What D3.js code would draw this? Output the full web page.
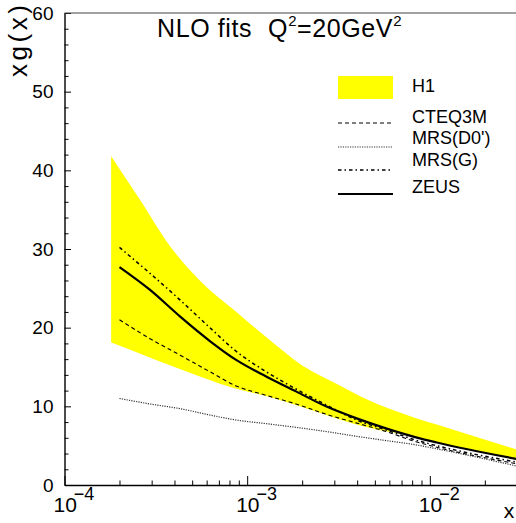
<!DOCTYPE html>
<html>
<head>
<meta charset="utf-8">
<script src="https://cdn.jsdelivr.net/npm/d3@7"></script>
<style>
  body { margin: 0; background: #fff; }
  svg { display: block; font-family: "Liberation Sans", Arial, Helvetica, sans-serif; }
</style>
</head>
<body>
<div id="chart"></div>
<script>
// donnees
const bandX   = [1.8e-4, 2.6e-4, 3.8e-4, 5.5e-4, 8.5e-4, 1.27e-3, 2e-3, 3.06e-3, 4.6e-3, 8.4e-3, 1.09e-2, 3e-2];
const h1High  = [41.8, 36.2, 30.3, 26.0, 22.2, 18.8, 15.2, 12.9, 10.8, 8.5, 7.7, 4.5];
const h1Low   = [18.1, 16.7, 15.2, 13.8, 12.3, 11.3, 9.9, 8.5, 7.3, 6.1, 5.4, 3.2];

const curveX  = [2e-4, 2.94e-4, 4.3e-4, 6.25e-4, 8.7e-4, 1.27e-3, 1.85e-3, 2.7e-3, 3.94e-3, 5.75e-3, 8.4e-3, 1.09e-2, 3e-2];
const cteq3m  = [21.0, 18.6, 16.5, 14.4, 12.6, 11.4, 10.3, 9.0, 7.9, 6.8, 5.5, 4.8, 2.7];
const mrsD0   = [11.0, 10.3, 9.7, 8.9, 8.26, 7.8, 7.33, 6.8, 6.2, 5.65, 5.1, 4.6, 2.4];
const mrsG    = [30.2, 26.9, 23.5, 20.0, 17.0, 14.4, 12.2, 10.2, 8.3, 7.0, 5.7, 5.0, 2.9];
const zeus    = [27.7, 24.8, 21.4, 18.3, 15.9, 13.8, 11.9, 10.0, 8.5, 7.2, 6.06, 5.4, 3.3];

const xMajor  = [1e-4, 1e-3, 1e-2];
const xExpo   = ["\u22124", "\u22123", "\u22122"];
const yMajor  = [0, 10, 20, 30, 40, 50, 60];

const seriesNames = ["CTEQ3M", "MRS(D0')", "MRS(G)", "ZEUS"];

// dimensions
const W = 516, H = 523;
const m = {left: 64.5, right: 517, top: 13, bottom: 485};

const svg = d3.select("#chart").append("svg")
    .attr("width", W).attr("height", H);

const x = d3.scaleLog().domain([1e-4, 3e-2]).range([m.left, m.right]);
const y = d3.scaleLinear().domain([0, 60]).range([m.bottom, m.top]);

svg.append("clipPath").attr("id", "clip")
  .append("rect").attr("x", m.left).attr("y", m.top)
  .attr("width", m.right - m.left).attr("height", m.bottom - m.top);

const plot = svg.append("g").attr("clip-path", "url(#clip)");

// bande H1
const band = bandX.map((v, i) => ({x: v, lo: h1Low[i], hi: h1High[i]}));
plot.append("path")
    .datum(band)
    .attr("fill", "#ffff00")
    .attr("stroke", "none")
    .attr("d", d3.area()
        .curve(d3.curveMonotoneX)
        .x(d => x(d.x))
        .y0(d => y(d.lo))
        .y1(d => y(d.hi)));

// courbes
const styles = [
  {vals: cteq3m, dash: "4,3", w: 1.1, color: "#000"},
  {vals: mrsD0,  dash: "1.2,1.2", w: 1.2, color: "#333"},
  {vals: mrsG,   dash: "3.5,3,1.5,3", w: 1.5, color: "#000"},
  {vals: zeus,   dash: null, w: 2.2, color: "#000"}
];

const line = d3.line()
    .curve(d3.curveMonotoneX)
    .x(d => x(d.x))
    .y(d => y(d.v));

styles.forEach(s => {
  plot.append("path")
      .datum(curveX.map((v, i) => ({x: v, v: s.vals[i]})))
      .attr("fill", "none")
      .attr("stroke", s.color)
      .attr("stroke-width", s.w)
      .attr("stroke-dasharray", s.dash)
      .attr("d", line);
});

// axe Y
const yMinor = d3.range(0, 61, 2).filter(v => v % 10 !== 0);
svg.append("g")
    .attr("transform", `translate(${m.left},0)`)
    .call(d3.axisLeft(y).tickValues(yMinor).tickSize(-4).tickSizeOuter(0).tickFormat(""))
    .call(g => g.select(".domain").remove());
svg.append("g")
    .attr("transform", `translate(${m.left},0)`)
    .call(d3.axisLeft(y).tickValues(yMajor).tickSize(-6.5).tickSizeOuter(0).tickPadding(11))
    .call(g => g.select(".domain").attr("stroke-width", 1.4))
    .call(g => g.selectAll("text").attr("font-size", 19).attr("font-family", null).attr("fill", "#000"));

// axe X
const xMinor = [];
[1e-4, 1e-3, 1e-2].forEach(d => { for (let k = 2; k <= 9; k++) if (d * k <= 3e-2) xMinor.push(d * k); });
svg.append("g")
    .attr("transform", `translate(0,${m.bottom})`)
    .call(d3.axisBottom(x).tickValues(xMinor).tickSize(-4.5).tickSizeOuter(0).tickFormat(""))
    .call(g => g.select(".domain").remove());
svg.append("g")
    .attr("transform", `translate(0,${m.bottom})`)
    .call(d3.axisBottom(x).tickValues(xMajor).tickSize(-9).tickSizeOuter(0).tickFormat(""))
    .call(g => g.select(".domain").attr("stroke-width", 1.4));

// etiquettes 10^n
xMajor.forEach((v, i) => {
  const t = svg.append("text")
      .attr("x", x(v) - 11)
      .attr("y", 512)
      .attr("font-size", 21);
  t.append("tspan").text("10");
  t.append("tspan").attr("dx", -3).attr("dy", -12).attr("font-size", 18).text(xExpo[i]);
});

// cadre haut
svg.append("line")
    .attr("x1", m.left).attr("x2", m.right)
    .attr("y1", m.top).attr("y2", m.top)
    .attr("stroke", "#444").attr("stroke-width", 1);

// titres d'axes
svg.append("text")
    .attr("x", 509).attr("y", 518)
    .attr("text-anchor", "middle")
    .attr("font-size", 21)
    .text("x");
svg.append("text")
    .attr("transform", "translate(27,77) rotate(-90)")
    .attr("font-size", 26)
    .attr("textLength", 72)
    .attr("lengthAdjust", "spacing")
    .text("xg(x)");

// titre
const title = svg.append("text")
    .attr("x", 157).attr("y", 37)
    .attr("font-size", 25)
    .attr("letter-spacing", 0.6);
title.append("tspan").text("NLO fits");
title.append("tspan").attr("dx", 16).text("Q");
title.append("tspan").attr("dy", -11).attr("font-size", 15).text("2");
title.append("tspan").attr("dy", 11).text("=20GeV");
title.append("tspan").attr("dy", -11).attr("font-size", 15).text("2");

// legende
const leg = svg.append("g");
leg.append("rect")
    .attr("x", 338).attr("y", 76)
    .attr("width", 55).attr("height", 23)
    .attr("fill", "#ffff00");
leg.append("text")
    .attr("x", 412).attr("y", 92)
    .attr("font-size", 18)
    .text("H1");

const legY = [123, 147, 170, 194];
const txtY = [123, 144, 166, 193];
styles.forEach((s, i) => {
  leg.append("line")
      .attr("x1", 338).attr("x2", 393)
      .attr("y1", legY[i]).attr("y2", legY[i])
      .attr("stroke", s.color)
      .attr("stroke-width", s.w)
      .attr("stroke-dasharray", s.dash);
  leg.append("text")
      .attr("x", 412).attr("y", txtY[i])
      .attr("font-size", 18)
      .text(seriesNames[i]);
});
</script>
</body>
</html>
